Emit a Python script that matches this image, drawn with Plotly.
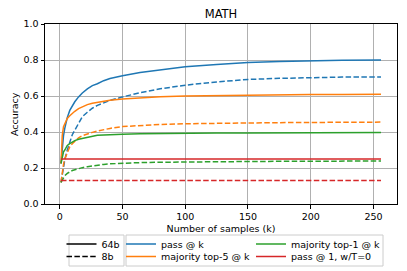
import plotly.graph_objects as go

# ---- data ----
k = [1, 2, 3, 4, 6, 8, 10, 12, 15, 18, 22, 26, 30, 35, 40, 50, 64, 80, 100, 125, 150, 175, 200, 225, 256]

pass_64b = [0.225, 0.32, 0.38, 0.42, 0.48, 0.52, 0.545, 0.568, 0.595, 0.617, 0.64, 0.658, 0.668, 0.685,
            0.697, 0.713, 0.73, 0.745, 0.762, 0.775, 0.786, 0.792, 0.796, 0.798, 0.80]
pass_8b = [0.12, 0.17, 0.21, 0.245, 0.30, 0.345, 0.385, 0.41, 0.45, 0.485, 0.51, 0.532, 0.548, 0.562,
           0.575, 0.595, 0.618, 0.64, 0.66, 0.678, 0.692, 0.698, 0.703, 0.705, 0.706]
top5_64b = [0.225, 0.38, 0.43, 0.448, 0.475, 0.49, 0.505, 0.515, 0.53, 0.54, 0.552, 0.56, 0.565, 0.572,
            0.577, 0.584, 0.591, 0.596, 0.600, 0.603, 0.605, 0.607, 0.608, 0.609, 0.61]
top5_8b = [0.12, 0.18, 0.22, 0.25, 0.29, 0.318, 0.335, 0.35, 0.368, 0.38, 0.39, 0.398, 0.405, 0.413,
           0.42, 0.43, 0.437, 0.442, 0.446, 0.449, 0.451, 0.452, 0.453, 0.454, 0.455]
top1_64b = [0.225, 0.265, 0.29, 0.30, 0.325, 0.335, 0.345, 0.352, 0.36, 0.365, 0.372, 0.378, 0.382, 0.384,
            0.386, 0.388, 0.39, 0.392, 0.393, 0.394, 0.395, 0.396, 0.396, 0.397, 0.397]
top1_8b = [0.12, 0.135, 0.148, 0.157, 0.17, 0.18, 0.186, 0.19, 0.197, 0.202, 0.207, 0.212, 0.216, 0.22,
           0.223, 0.227, 0.23, 0.232, 0.234, 0.235, 0.236, 0.237, 0.238, 0.238, 0.239]
greedy_k = [1, 256]
greedy_64b = [0.25, 0.25]
greedy_8b = [0.13, 0.13]

metric_names = ["pass @ k", "majority top-5 @ k", "majority top-1 @ k", "pass @ 1, w/T=0"]
model_names = ["64b", "8b"]
colors = ["#1f77b4", "#ff7f0e", "#2ca02c", "#d62728"]

FONT = "DejaVu Sans"
DASH = "5.5px,2.4px"

fig = go.Figure()

series = [
    (k, pass_64b, pass_8b, 0),
    (k, top5_64b, top5_8b, 1),
    (k, top1_64b, top1_8b, 2),
    (greedy_k, greedy_64b, greedy_8b, 3),
]
for xs, y64, y8, ci in series:
    fig.add_trace(go.Scatter(x=xs, y=y8, mode="lines", showlegend=False, hoverinfo="skip",
                             line=dict(color=colors[ci], width=1.5, dash=DASH)))
    fig.add_trace(go.Scatter(x=xs, y=y64, mode="lines", showlegend=False, hoverinfo="skip",
                             line=dict(color=colors[ci], width=1.5)))

W, H = 407, 271
L, R, T, B = 45, 10, 24, 67
PW, PH = W - L - R, H - T - B

# legend entries: one small legend per entry, so each can be placed like the reference
ROW1, ROW2 = 244, 256.5
entries = [
    (model_names[0], "black", None, "legend", 61.5, ROW1),
    (model_names[1], "black", DASH, "legend2", 61.5, ROW2),
    (metric_names[0], colors[0], None, "legend3", 121, ROW1),
    (metric_names[1], colors[1], None, "legend4", 121, ROW2),
    (metric_names[2], colors[2], None, "legend5", 251, ROW1),
    (metric_names[3], colors[3], None, "legend6", 251, ROW2),
]
legend_layout = {}
for name, col, dash, lg, lx, ly in entries:
    fig.add_trace(go.Scatter(x=[None], y=[None], mode="lines", name=name, legend=lg,
                             line=dict(color=col, width=1.5, dash=dash)))
    legend_layout[lg] = dict(orientation="v", xref="container", yref="container",
                             xanchor="left", yanchor="middle", x=lx / W, y=1 - ly / H,
                             bgcolor="rgba(255,255,255,0)", borderwidth=0,
                             font=dict(family=FONT, size=9.5, color="black"),
                             itemwidth=30, tracegroupgap=0)

axis_common = dict(showline=True, linecolor="black", linewidth=1, mirror=True,
                   ticks="outside", ticklen=3.5, tickwidth=0.8, tickcolor="black",
                   showgrid=True, gridcolor="#b0b0b0", gridwidth=0.8, zeroline=False,
                   tickfont=dict(family=FONT, size=9.5, color="black"))

fig.update_layout(
    width=W, height=H,
    margin=dict(l=L, r=R, t=T, b=B, autoexpand=False),
    paper_bgcolor="white", plot_bgcolor="white",
    title=dict(text="MATH", x=(L + (W - R)) / 2 / W, xanchor="center", y=1 - 14 / H, yanchor="middle",
               font=dict(family=FONT, size=11.5, color="black")),
    xaxis=dict(range=[-11.75, 268.75], tickvals=[0, 50, 100, 150, 200, 250],
               title=dict(text="Number of samples (k)", font=dict(family=FONT, size=9.5, color="black"),
                          standoff=4),
               **axis_common),
    yaxis=dict(range=[0, 1], tickvals=[0, 0.2, 0.4, 0.6, 0.8, 1.0], tickformat=".1f",
               **axis_common),
    showlegend=True,
    **legend_layout,
)

# y axis title
fig.add_annotation(text="Accuracy", xref="paper", yref="paper", x=(14 - L) / PW, y=0.5,
                   xanchor="center", yanchor="middle", textangle=-90, showarrow=False,
                   font=dict(family=FONT, size=9.5, color="black"))

# frames around the legends
for px0, px1 in [(69, 124), (126, 383)]:
    fig.add_shape(type="rect", xref="paper", yref="paper", layer="below",
                  x0=(px0 - L) / PW, x1=(px1 - L) / PW,
                  y0=(204 - 266) / PH, y1=(204 - 235) / PH,
                  line=dict(color="#cccccc", width=1), fillcolor="white")

fig.write_html("out.html", config={"displayModeBar": False},
               post_script="document.body.style.margin='0';")
